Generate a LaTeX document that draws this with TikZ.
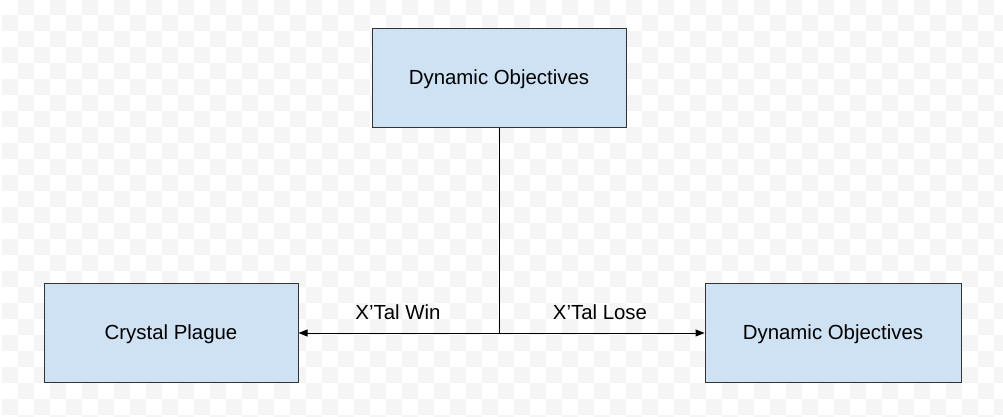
\documentclass[tikz,border=0pt]{standalone}
\usepackage{fontspec}
\setmainfont{Liberation Sans}
\usetikzlibrary{arrows.meta}
\definecolor{boxfill}{HTML}{CFE2F3}
\definecolor{boxline}{HTML}{333333}
\definecolor{checker}{HTML}{F5F5F5}
\begin{document}
\begin{tikzpicture}[x=1pt,y=-1pt,
  box/.style={draw=boxline,fill=boxfill,line width=1pt,minimum width=254pt,minimum height=99pt,inner sep=0pt,text height=13.6pt,text depth=0pt,font=\fontsize{20.4}{24}\selectfont},
  lbl/.style={font=\fontsize{20.4}{24}\selectfont,inner sep=0pt},
  conn/.style={line width=1pt,draw=black},
  tip/.style={-{Triangle[length=9pt,width=7pt]}}]
\useasboundingbox (0,0) rectangle (1003,416);
\fill[white] (0,0) rectangle (1003,416);
\foreach \j in {0,...,26}{
  \pgfmathsetmacro{\yy}{16*\j-1}
  \pgfmathsetmacro{\xo}{mod(\j,2)==0 ? 18 : 2}
  \foreach \i in {0,...,31}{
    \fill[checker] (\xo+32*\i,\yy) rectangle ++(16,16);
  }
}
\node[box] (top) at (499,77.5) {Dynamic Objectives};
\node[box] (left) at (171,333) {Crystal Plague};
\node[box,minimum width=256pt] (right) at (833,333) {Dynamic Objectives};
\coordinate (j) at (top.south |- left.east);
\draw[conn] (top.south) -- (j);
\draw[conn,tip] (j) -- (left.east);
\draw[conn,tip] (j) -- (right.west);
\node[lbl] (win) at (398,312) {X’Tal Win};
\node[lbl] (lose) at (600,312) {X’Tal Lose};
\end{tikzpicture}
\end{document}
